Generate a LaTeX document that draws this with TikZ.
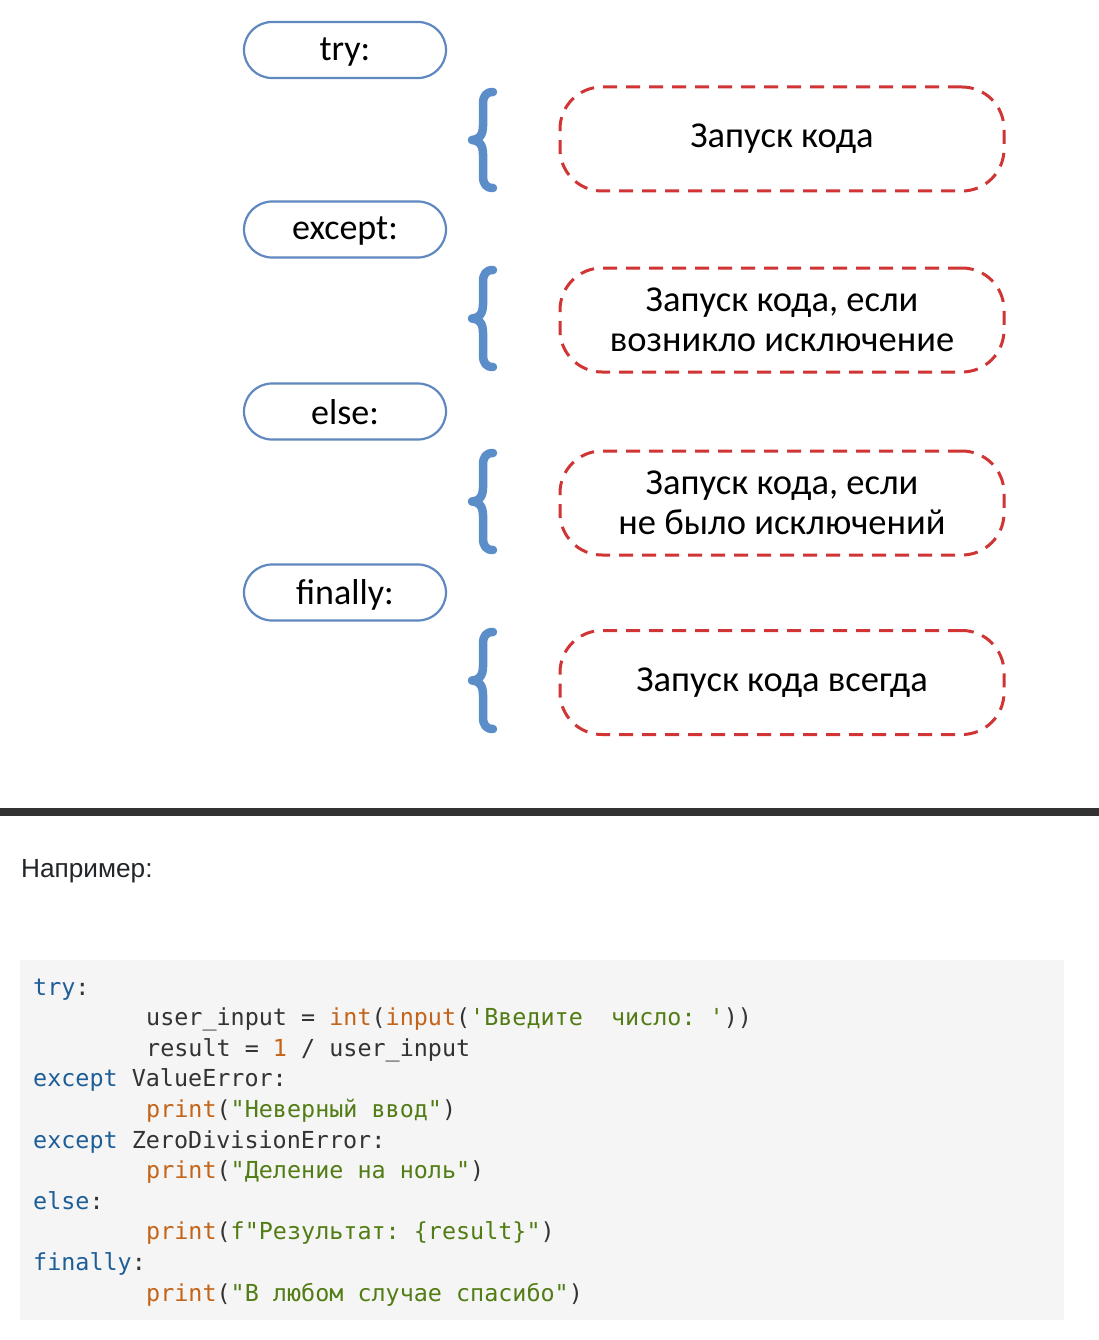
\documentclass[tikz,border=0pt]{standalone}
\usepackage{fontspec}
\setmainfont{Carlito}
\newfontfamily\codefont{DejaVu Sans Mono}
\newfontfamily\uifont{Liberation Sans}
\definecolor{kwblue}{RGB}{96,136,192}
\definecolor{braceblue}{RGB}{91,141,201}
\definecolor{dashred}{RGB}{208,52,52}
\definecolor{barcol}{RGB}{50,50,50}
\definecolor{codebg}{RGB}{245,245,245}
\definecolor{codegray}{RGB}{51,51,51}
\definecolor{ckw}{RGB}{30,94,152}
\definecolor{corange}{RGB}{196,100,24}
\definecolor{cgreen}{RGB}{82,124,20}
\definecolor{uitext}{RGB}{33,37,41}
\newcommand\KW[1]{\textcolor{ckw}{#1}}
\newcommand\OR[1]{\textcolor{corange}{#1}}
\newcommand\GR[1]{\textcolor{cgreen}{#1}}
\begin{document}
\begin{tikzpicture}[x=1pt,y=-1pt,
  kwbox/.style={draw=kwblue, line width=2.2pt, rounded corners=28pt,
    minimum width=202pt, minimum height=56pt, inner sep=0pt,
    font=\fontsize{36}{40}\selectfont, text=black},
  dashbox/.style={draw=dashred, line width=3pt, dash pattern=on 14pt off 9pt,
    rounded corners=42pt, minimum width=444pt, minimum height=104pt,
    inner sep=0pt, align=center, font=\fontsize{36.5}{39.5}\selectfont, text=black},
  bracestyle/.style={draw=braceblue, line width=8.5pt, line cap=round, line join=round},
  codeline/.style={anchor=base west, inner sep=0pt,
    font=\codefont\fontsize{23.4}{28}\selectfont\frenchspacing, text=codegray}]
\useasboundingbox (0,0) rectangle (1099,1340);
\fill[white] (0,0) rectangle (1099,1340);

% keyword boxes
\node[kwbox] (ktry) at (345,50) {};
\node[font=\fontsize{36}{40}\selectfont, inner sep=0pt] (ttry) at ([yshift=-2pt]ktry.center) {try:};
\node[kwbox] (kexc) at (345,229.5) {};
\node[font=\fontsize{36}{40}\selectfont, inner sep=0pt] (texc) at ([yshift=-2pt]kexc.center) {except:};
\node[kwbox] (kels) at (345,411.5) {};
\node[font=\fontsize{36}{40}\selectfont, inner sep=0pt] (tels) at ([yshift=-1pt]kels.center) {else:};
\node[kwbox] (kfin) at (345,592.5) {};
\node[font=\fontsize{36}{40}\selectfont, inner sep=0pt] (tfin) at ([yshift=-2pt]kfin.center) {finally:};

% braces
\foreach \t/\b/\m in {88/192/140, 266/371/318.5, 449/554/501.5, 628/733/680.5}{
  \draw[bracestyle] (493,\t+4) .. controls (486,\t+4) and (483,\t+8) .. (483,\t+16)
    -- (483,\m-14) .. controls (483,\m-5) and (479,\m) .. (472,\m)
    .. controls (479,\m) and (483,\m+5) .. (483,\m+14)
    -- (483,\b-16) .. controls (483,\b-8) and (486,\b-4) .. (493,\b-4);
}

% dashed boxes
\node[dashbox] (d1) at (782,139) {Запуск кода};
\node[dashbox] (d2) at (782,320) {Запуск кода, если\\возникло исключение};
\node[dashbox] (d3) at (782,503) {Запуск кода, если\\не было исключений};
\node[dashbox] (d4) at (782,682.5) {Запуск кода всегда};

% separator bar
\fill[barcol] (0,808) rectangle (1099,816);

\node[anchor=base west, inner sep=0pt, text=uitext,
  font=\uifont\fontsize{26.2}{31}\selectfont] (ex) at (21,877) {Например:};

% code block
\fill[codebg] (20,960) rectangle (1064,1320);
\node[codeline] (c1) at (33,995) {\KW{try}:};
\node[codeline] (c2) at (146,1025.6) {user\_input = \OR{int}(\OR{input}(\GR{'Введите\ \ число: '}))};
\node[codeline] (c3) at (146,1056.2) {result = \OR{1} / user\_input};
\node[codeline] (c4) at (33,1086.8) {\KW{except} ValueError:};
\node[codeline] (c5) at (146,1117.4) {\OR{print}(\GR{"Неверный ввод"})};
\node[codeline] (c6) at (33,1148) {\KW{except} ZeroDivisionError:};
\node[codeline] (c7) at (146,1178.6) {\OR{print}(\GR{"Деление на ноль"})};
\node[codeline] (c8) at (33,1209.2) {\KW{else}:};
\node[codeline] (c9) at (146,1239.8) {\OR{print}(\GR{f"Результат: \{result\}"})};
\node[codeline] (c10) at (33,1270.4) {\KW{finally}:};
\node[codeline] (c11) at (146,1301) {\OR{print}(\GR{"В любом случае спасибо"})};
\end{tikzpicture}
\end{document}
